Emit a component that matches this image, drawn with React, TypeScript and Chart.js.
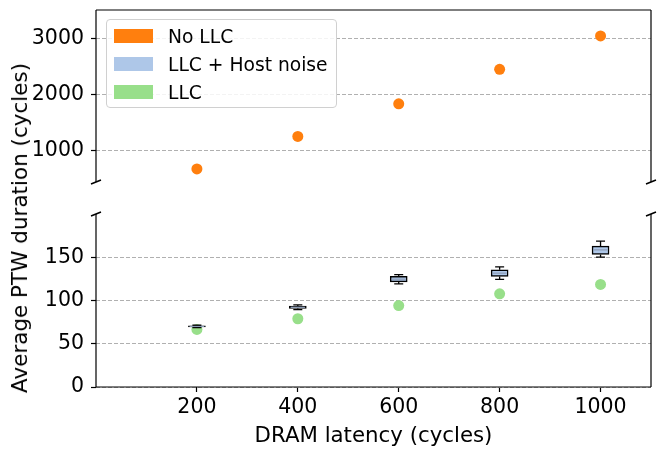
import { useEffect, useRef } from "react";
import { Chart, registerables } from "chart.js";

Chart.register(...registerables);

// DRAM latency (cycles)
const latencies = [200, 400, 600, 800, 1000];
// average PTW duration, no LLC
const noLLC = [682, 1258, 1837, 2448, 3040];
// LLC only
const llc = [66.6, 78.9, 94.2, 107.7, 118.6];
// LLC + host noise, box stats
const noiseMin = [68.8, 89.5, 119.2, 124.4, 150.1];
const noiseQ1 = [69.4, 90.8, 121.6, 127.8, 153.2];
const noiseMed = [70.0, 92.2, 124.7, 131.6, 158.5];
const noiseQ3 = [70.8, 93.6, 127.8, 135.5, 162.8];
const noiseMax = [71.4, 95.0, 130.0, 138.9, 168.6];

const xTicks = [200, 400, 600, 800, 1000];
const topTicks = [1000, 2000, 3000];
const bottomTicks = [0, 50, 100, 150];

const legendItems = [
  { label: "No LLC", color: "#ff7f0e" },
  { label: "LLC + Host noise", color: "#aec7e8" },
  { label: "LLC", color: "#98df8a" },
];

const FONT = "'DejaVu Sans', sans-serif";
Chart.defaults.font.family = FONT;
Chart.defaults.font.size = 20.5;
Chart.defaults.color = "#000";

// spines + broken axis marks
const framePlugin = {
  id: "frame",
  afterDraw(chart: any, _args: any, opts: any) {
    const { ctx, chartArea: a } = chart;
    ctx.save();
    ctx.strokeStyle = "#000";
    ctx.lineWidth = 1.2;
    ctx.beginPath();
    for (const side of opts.sides || []) {
      if (side === "top") { ctx.moveTo(a.left, a.top); ctx.lineTo(a.right, a.top); }
      if (side === "bottom") { ctx.moveTo(a.left, a.bottom); ctx.lineTo(a.right, a.bottom); }
      if (side === "left") { ctx.moveTo(a.left, a.top); ctx.lineTo(a.left, a.bottom); }
      if (side === "right") { ctx.moveTo(a.right, a.top); ctx.lineTo(a.right, a.bottom); }
    }
    ctx.stroke();
    if (opts.breakAt) {
      const y = opts.breakAt === "top" ? a.top : a.bottom;
      ctx.lineWidth = 1.5;
      ctx.beginPath();
      for (const x of [a.left, a.right]) {
        ctx.moveTo(x - 5, y + 2);
        ctx.lineTo(x + 5, y - 2);
      }
      ctx.stroke();
    }
    ctx.restore();
  },
};

// whiskers, caps and medians for the box plot
const whiskerPlugin = {
  id: "whiskers",
  afterDatasetsDraw(chart: any) {
    const { ctx } = chart;
    const xs = chart.scales.x;
    const ys = chart.scales.y;
    ctx.save();
    latencies.forEach((lat, i) => {
      const px = xs.getPixelForValue(lat);
      const yMin = ys.getPixelForValue(noiseMin[i]);
      const yQ1 = ys.getPixelForValue(noiseQ1[i]);
      const yQ3 = ys.getPixelForValue(noiseQ3[i]);
      const yMax = ys.getPixelForValue(noiseMax[i]);
      const yMed = ys.getPixelForValue(noiseMed[i]);
      ctx.strokeStyle = "#000";
      ctx.lineWidth = 1.3;
      ctx.beginPath();
      ctx.moveTo(px, yQ1); ctx.lineTo(px, yMin);
      ctx.moveTo(px, yQ3); ctx.lineTo(px, yMax);
      ctx.moveTo(px - 4.5, yMin); ctx.lineTo(px + 4.5, yMin);
      ctx.moveTo(px - 4.5, yMax); ctx.lineTo(px + 4.5, yMax);
      ctx.stroke();
      ctx.strokeStyle = "#8c9bb5";
      ctx.lineWidth = 1.2;
      ctx.beginPath();
      ctx.moveTo(px - 7, yMed); ctx.lineTo(px + 7, yMed);
      ctx.stroke();
    });
    ctx.restore();
  },
};

const gridY = {
  drawOnChartArea: true,
  offset: false,
  color: "#b0b0b0",
  lineWidth: 1,
  tickColor: "#000",
  tickLength: 5,
  tickWidth: 1.2,
};

const plainTick = (v: any) => String(v);

// fixed axis width, no extra label padding
const fitY = (s: any) => {
  s.width = 96;
  s.paddingTop = 0;
  s.paddingBottom = 0;
};
const fitX = (s: any) => {
  s.height = 67;
  s.paddingLeft = 0;
  s.paddingRight = 0;
};

const TopPanel = () => {
  const canvasRef = useRef<HTMLCanvasElement | null>(null);
  useEffect(() => {
    if (!canvasRef.current) return;
    const chart = new Chart(canvasRef.current, {
      type: "scatter",
      data: {
        datasets: [
          {
            label: "No LLC",
            data: latencies.map((x, i) => ({ x, y: noLLC[i] })),
            backgroundColor: "#ff7f0e",
            borderWidth: 0,
            pointRadius: 5.5,
          },
        ],
      },
      options: {
        animation: false,
        responsive: true,
        maintainAspectRatio: false,
        layout: { padding: { top: 10, right: 14, bottom: 18, left: 0 } },
        scales: {
          x: { type: "linear", min: 0, max: 1100, display: false },
          y: {
            min: 450,
            max: 3500,
            afterFit: fitY,
            afterBuildTicks: (s: any) => { s.ticks = topTicks.map(v => ({ value: v })); },
            grid: gridY,
            border: { display: false, dash: [4, 2] },
            ticks: { padding: 7, color: "#000", callback: plainTick },
          },
        },
        plugins: {
          legend: { display: false },
          tooltip: { enabled: false },
          frame: { sides: ["top", "left", "right"], breakAt: "bottom" },
        } as any,
      },
      plugins: [framePlugin],
    });
    return () => chart.destroy();
  }, []);
  return (
    <div style={{ position: "absolute", left: 0, top: 0, width: 665, height: 200 }}>
      <canvas ref={canvasRef} />
    </div>
  );
};

const BottomPanel = () => {
  const canvasRef = useRef<HTMLCanvasElement | null>(null);
  useEffect(() => {
    if (!canvasRef.current) return;
    const chart = new Chart(canvasRef.current, {
      type: "scatter",
      data: {
        datasets: [
          {
            type: "bar",
            label: "LLC + Host noise",
            data: latencies.map((x, i) => ({ x, y: [noiseQ1[i], noiseQ3[i]] })) as any,
            backgroundColor: "#aec7e8",
            borderColor: "#000",
            borderWidth: 1.5,
            borderSkipped: false,
            barThickness: 17,
          } as any,
          {
            label: "LLC",
            data: latencies.map((x, i) => ({ x, y: llc[i] })),
            backgroundColor: "#98df8a",
            borderWidth: 0,
            pointRadius: 5.5,
          },
        ],
      },
      options: {
        animation: false,
        responsive: true,
        maintainAspectRatio: false,
        layout: { padding: { top: 14, right: 14, bottom: 0, left: 0 } },
        scales: {
          x: {
            type: "linear",
            min: 0,
            max: 1100,
            offset: false,
            afterFit: fitX,
            afterBuildTicks: (s: any) => { s.ticks = xTicks.map(v => ({ value: v })); },
            grid: { drawOnChartArea: false, offset: false, tickColor: "#000", tickLength: 5, tickWidth: 1.2 },
            border: { display: false },
            ticks: { padding: 3, color: "#000", maxRotation: 0, callback: plainTick },
            title: {
              display: true,
              text: "DRAM latency (cycles)",
              color: "#000",
              font: { size: 21.3 },
              padding: { top: 0, bottom: 5 },
            },
          },
          y: {
            min: 0,
            max: 200,
            afterFit: fitY,
            afterBuildTicks: (s: any) => { s.ticks = bottomTicks.map(v => ({ value: v })); },
            grid: gridY,
            border: { display: false, dash: [4, 2] },
            ticks: { padding: 7, color: "#000", callback: plainTick },
          },
        },
        plugins: {
          legend: { display: false },
          tooltip: { enabled: false },
          frame: { sides: ["bottom", "left", "right"], breakAt: "top" },
        } as any,
      },
      plugins: [framePlugin, whiskerPlugin],
    });
    return () => chart.destroy();
  }, []);
  return (
    <div style={{ position: "absolute", left: 0, top: 200, width: 665, height: 254 }}>
      <canvas ref={canvasRef} />
    </div>
  );
};

export default function App() {
  return (
    <div style={{ position: "fixed", left: 0, top: 0, width: 665, height: 454, background: "#fff", fontFamily: FONT }}>
      <TopPanel />
      <BottomPanel />
      <div
        style={{
          position: "absolute",
          left: 20,
          top: 228,
          transform: "translate(-50%, -50%) rotate(-90deg)",
          whiteSpace: "nowrap",
          fontSize: 21.5,
          lineHeight: "26px",
        }}
      >
        Average PTW duration (cycles)
      </div>
      <div
        style={{
          position: "absolute",
          left: 106,
          top: 19,
          width: 229,
          height: 87,
          border: "1px solid #d0d0d0",
          borderRadius: 4,
          background: "rgba(255,255,255,0.85)",
        }}
      >
        {legendItems.map((item, i) => (
          <div key={item.label} style={{ position: "absolute", left: 0, top: 2 + i * 28, height: 28, display: "flex", alignItems: "center" }}>
            <span style={{ display: "inline-block", marginLeft: 7, width: 39, height: 14, background: item.color }} />
            <span style={{ marginLeft: 15, fontSize: 18.7, whiteSpace: "nowrap" }}>{item.label}</span>
          </div>
        ))}
      </div>
    </div>
  );
}
